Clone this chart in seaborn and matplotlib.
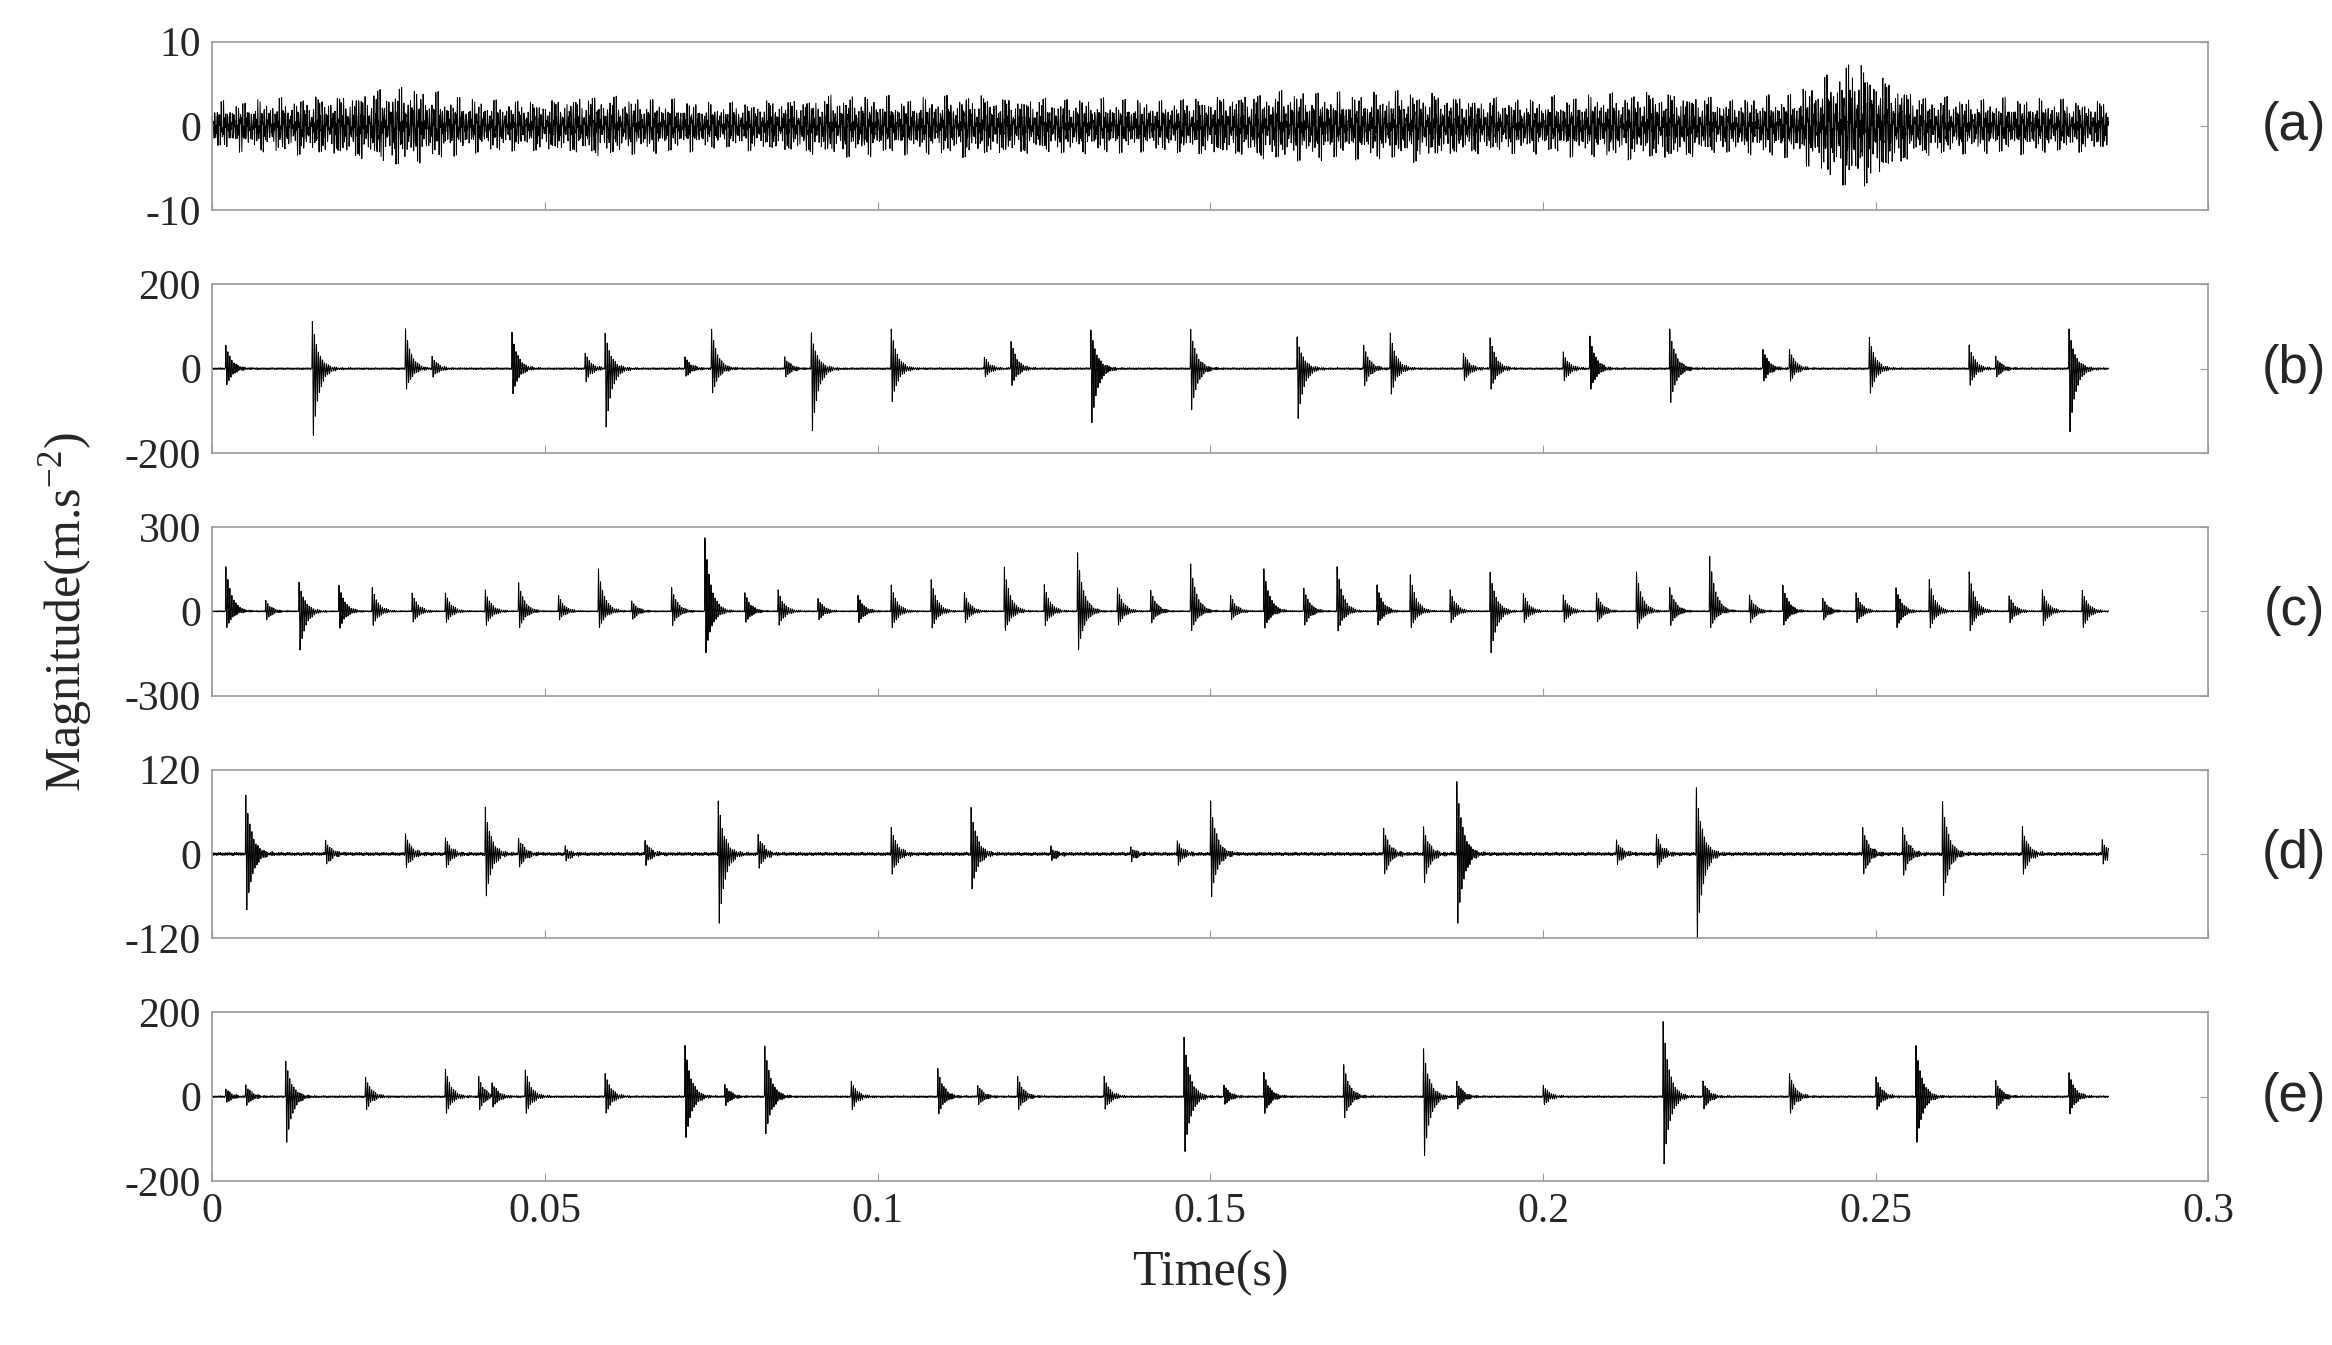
import numpy as np
import pandas as pd
import matplotlib
matplotlib.use("Agg")
import matplotlib.pyplot as plt
import seaborn as sns

# impulse times (s), positive peak, negative peak
b_t = [0.002, 0.015, 0.029, 0.033, 0.045, 0.056, 0.059, 0.071, 0.075, 0.086, 0.090, 0.102,
       0.116, 0.120, 0.132, 0.147, 0.163, 0.173, 0.177, 0.188, 0.192, 0.203, 0.207, 0.219,
       0.233, 0.237, 0.249, 0.264, 0.268, 0.279]
b_pos = [60, 120, 100, 30, 90, 40, 90, 30, 100, 30, 90, 100, 30, 70, 100, 100, 80, 60, 90, 40,
         80, 40, 80, 100, 50, 50, 80, 60, 30, 100]
b_neg = [40, 160, 50, 20, 60, 30, 140, 20, 60, 20, 150, 80, 20, 40, 130, 100, 120, 40, 60, 30,
         50, 30, 50, 80, 30, 30, 60, 40, 20, 150]

c_t = [0.002, 0.008, 0.013, 0.019, 0.024, 0.030, 0.035, 0.041, 0.046, 0.052, 0.058, 0.063,
       0.069, 0.074, 0.080, 0.085, 0.091, 0.097, 0.102, 0.108, 0.113, 0.119, 0.125, 0.130,
       0.136, 0.141, 0.147, 0.153, 0.158, 0.164, 0.169, 0.175, 0.180, 0.186, 0.192, 0.197,
       0.203, 0.208, 0.214, 0.219, 0.225, 0.231, 0.236, 0.242, 0.247, 0.253, 0.258, 0.264,
       0.270, 0.275, 0.281]
c_pos = [170, 40, 110, 100, 90, 70, 70, 80, 110, 60, 160, 40, 90, 280, 70, 80, 50, 60, 100, 120,
         70, 170, 100, 220, 90, 80, 180, 60, 160, 90, 170, 100, 140, 80, 150, 70, 60, 70, 150, 90,
         210, 60, 100, 50, 70, 90, 120, 150, 60, 80, 80]
c_neg = [60, 30, 140, 60, 50, 40, 40, 50, 60, 30, 60, 30, 50, 150, 40, 50, 30, 40, 60, 60,
         40, 70, 50, 140, 50, 40, 70, 30, 60, 50, 70, 50, 60, 40, 150, 40, 40, 40, 60, 50,
         60, 40, 50, 30, 40, 60, 60, 70, 40, 50, 60]

d_t = [0.005, 0.017, 0.029, 0.035, 0.041, 0.046, 0.053, 0.065, 0.076, 0.082, 0.102, 0.114,
       0.126, 0.138, 0.145, 0.150, 0.176, 0.182, 0.187, 0.211, 0.217, 0.223, 0.248, 0.254,
       0.260, 0.272, 0.284]
d_pos = [90, 20, 30, 25, 70, 25, 10, 20, 80, 30, 40, 70, 10, 10, 20, 80, 40, 40, 110, 20, 30,
         100, 40, 40, 80, 40, 20]
d_neg = [80, 15, 20, 20, 60, 20, 10, 15, 100, 20, 30, 50, 10, 10, 15, 60, 30, 40, 100, 15, 20,
         120, 30, 30, 60, 30, 15]

e_t = [0.002, 0.005, 0.011, 0.023, 0.035, 0.040, 0.042, 0.047, 0.059, 0.071, 0.077, 0.083,
       0.096, 0.109, 0.115, 0.121, 0.134, 0.146, 0.152, 0.158, 0.170, 0.182, 0.187, 0.200,
       0.218, 0.224, 0.237, 0.250, 0.256, 0.268, 0.279]
e_pos = [20, 30, 90, 50, 70, 50, 40, 70, 60, 130, 30, 130, 40, 70, 30, 50, 50, 150, 30, 60,
         80, 120, 40, 30, 190, 40, 60, 50, 130, 40, 60]
e_neg = [15, 20, 110, 30, 40, 30, 30, 40, 40, 100, 20, 90, 30, 40, 20, 30, 30, 130, 20, 40,
         50, 140, 30, 20, 160, 30, 40, 30, 110, 30, 40]

# panel (a): envelope of broadband noise every 0.0095 s
a_env = [2.5, 3.0, 3.5, 4.5, 3.0, 2.8, 3.5, 3.0, 2.5, 3.0, 3.5, 3.0, 3.5, 3.2, 3.0, 2.8, 3.5,
         4.0, 3.5, 4.0, 3.2, 3.0, 3.5, 4.0, 3.0, 3.5, 7.5, 3.5, 3.0, 3.0, 2.8]

t_end = 0.285
fs = 40000
t = np.arange(0, t_end, 1 / fs)


def carrier(tt):
    return (np.sin(2 * np.pi * 3100 * tt) + 0.6 * np.sin(2 * np.pi * 5270 * tt + 1.3)
            + 0.4 * np.sin(2 * np.pi * 8930 * tt + 0.7)) / 1.6


def impulses(times, pos, neg):
    y = np.zeros_like(t)
    for t0, p, n in zip(times, pos, neg):
        dt = t - t0
        m = dt >= 0
        w = np.exp(-dt[m] / 0.0009) * np.sin(2 * np.pi * 3300 * dt[m] + 0.4)
        y[m] += np.where(w > 0, w * p, w * n * 1.25)
    return y + 2.0 * carrier(t * 1.37)


a_sig = np.interp(t, np.linspace(0, t_end, len(a_env)), a_env) * carrier(t) * \
    (0.6 + 0.4 * np.sin(2 * np.pi * 170 * t) ** 2)

panels = [
    ("(a)", a_sig, 10, [-10, 0, 10]),
    ("(b)", impulses(b_t, b_pos, b_neg), 200, [-200, 0, 200]),
    ("(c)", impulses(c_t, c_pos, c_neg), 300, [-300, 0, 300]),
    ("(d)", impulses(d_t, d_pos, d_neg), 120, [-120, 0, 120]),
    ("(e)", impulses(e_t, e_pos, e_neg), 200, [-200, 0, 200]),
]

sns.set_style("white")
plt.rcParams["font.family"] = ["Liberation Serif", "DejaVu Serif"]
plt.rcParams["mathtext.fontset"] = "custom"
plt.rcParams["mathtext.rm"] = "Liberation Serif"

fig, axes = plt.subplots(5, 1, figsize=(23.32, 13.45), dpi=100, sharex=True)
fig.subplots_adjust(left=0.091, right=0.947, top=0.969, bottom=0.122, hspace=0.44)

for ax, (lab, y, lim, ticks) in zip(axes, panels):
    df = pd.DataFrame({"t": t, "y": y})
    sns.lineplot(data=df, x="t", y="y", ax=ax, color="black", linewidth=0.7,
                 estimator=None, sort=False)
    ax.set_ylim(-lim, lim)
    ax.set_yticks(ticks)
    ax.set_yticklabels([str(v) for v in ticks])
    ax.set_xlim(0, 0.3)
    ax.set_xlabel("")
    ax.set_ylabel("")
    for s in ax.spines.values():
        s.set_color("#999999")
        s.set_linewidth(1.2)
    ax.tick_params(axis="both", direction="in", length=6, color="#999999",
                   labelsize=30, right=True, top=False, bottom=True, pad=8)
    ax.text(1.043, 0.5, lab, transform=ax.transAxes, ha="center", va="center",
            fontsize=38, family="Liberation Sans")

axes[-1].set_xticks([0, 0.05, 0.1, 0.15, 0.2, 0.25, 0.3])
axes[-1].set_xticklabels(["0", "0.05", "0.1", "0.15", "0.2", "0.25", "0.3"])
axes[-1].set_xlabel("Time(s)", fontsize=36, labelpad=14)
fig.text(0.028, 0.545, "Magnitude(m.s$^{\\mathrm{-2}}$)", rotation=90, ha="center",
         va="center", fontsize=36)

fig.savefig("out.png", dpi=100)
